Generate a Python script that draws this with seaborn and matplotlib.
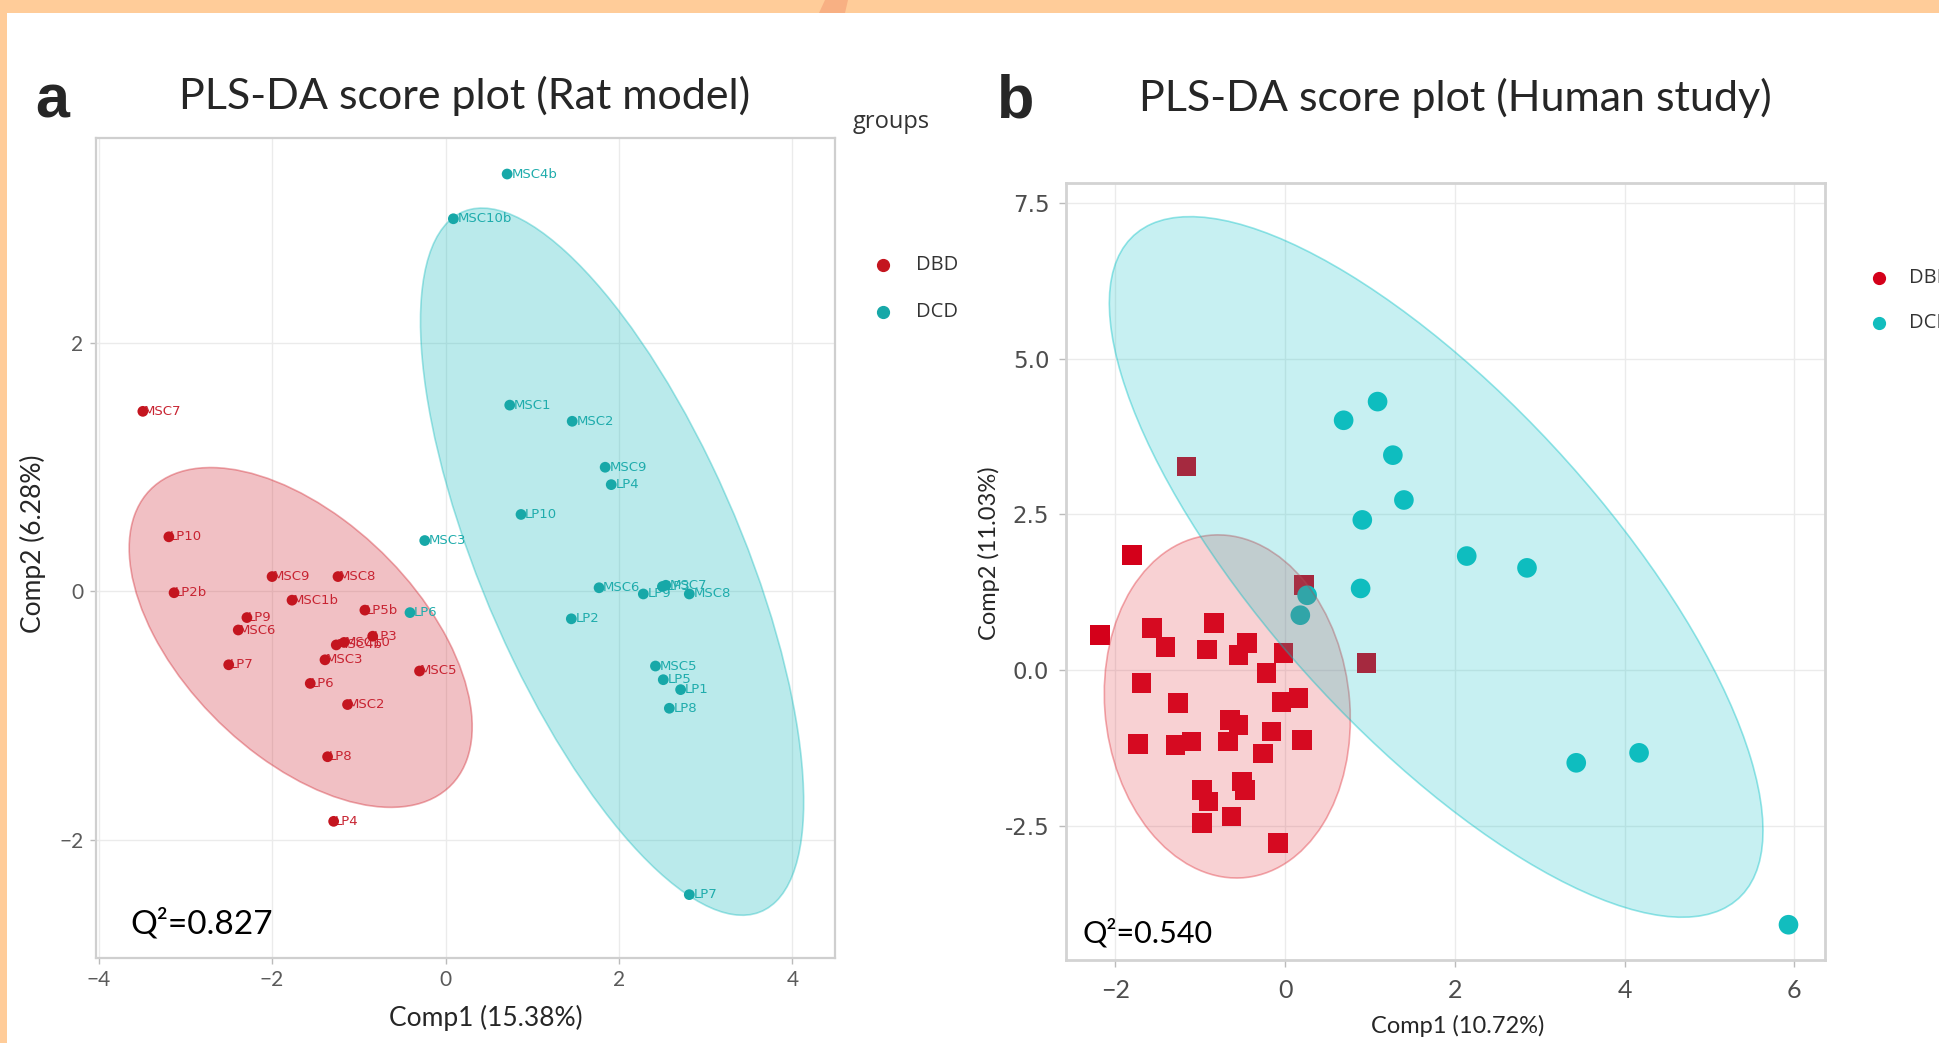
import numpy as np
import pandas as pd
import matplotlib
matplotlib.use("Agg")
import matplotlib.pyplot as plt
import seaborn as sns
from matplotlib.patches import Ellipse, Polygon, Rectangle
from matplotlib.lines import Line2D

# ---------------- data: panel a (rat model) ----------------
rat_dbd_names = ["MSC7", "LP10", "LP2b", "MSC9", "MSC8", "MSC1b", "LP9", "MSC6", "LP5b", "LP3",
                 "MSC4b", "MSC10", "MSC3", "LP7", "MSC5", "LP6", "MSC2", "LP8", "LP4"]
rat_dbd_comp1 = [-3.49, -3.19, -3.13, -2.00, -1.24, -1.77, -2.29, -2.39, -0.93, -0.84,
                 -1.26, -1.17, -1.39, -2.50, -0.30, -1.56, -1.13, -1.36, -1.29]
rat_dbd_comp2 = [1.45, 0.44, -0.01, 0.12, 0.12, -0.07, -0.21, -0.31, -0.15, -0.36,
                 -0.43, -0.41, -0.55, -0.59, -0.64, -0.74, -0.91, -1.33, -1.85]

rat_dcd_names = ["MSC4b", "MSC10b", "MSC1", "MSC2", "MSC9", "LP4", "LP10", "MSC3", "LP6", "MSC6",
                 "LP9", "LP3", "MSC7", "MSC8", "LP2", "MSC5", "LP5", "LP1", "LP8", "LP7"]
rat_dcd_comp1 = [0.71, 0.09, 0.74, 1.46, 1.84, 1.91, 0.87, -0.24, -0.41, 1.77,
                 2.28, 2.50, 2.54, 2.81, 1.45, 2.42, 2.51, 2.71, 2.58, 2.81]
rat_dcd_comp2 = [3.36, 3.00, 1.50, 1.37, 1.00, 0.86, 0.62, 0.41, -0.17, 0.03,
                 -0.02, 0.04, 0.05, -0.02, -0.22, -0.60, -0.71, -0.79, -0.94, -2.44]

# ---------------- data: panel b (human study) ----------------
human_dbd_comp1 = [-1.16, -1.80, 0.22, 0.96, -2.18, -1.57, -1.41, -0.84, -0.92, -0.45,
                   -0.55, -0.02, -0.22, -1.69, -1.26, -0.04, 0.16, -0.65, -0.55, -0.16,
                   0.20, -1.73, -1.29, -1.10, -0.67, -0.26, -0.98, -0.90, -0.51, -0.47,
                   -0.98, -0.63, -0.08]
human_dbd_comp2 = [3.27, 1.85, 1.36, 0.11, 0.56, 0.67, 0.37, 0.75, 0.33, 0.43,
                   0.24, 0.27, -0.05, -0.21, -0.53, -0.51, -0.45, -0.80, -0.88, -0.99,
                   -1.12, -1.19, -1.20, -1.15, -1.15, -1.34, -1.93, -2.11, -1.79, -1.93,
                   -2.46, -2.35, -2.78]
human_dcd_comp1 = [0.69, 1.09, 1.27, 1.40, 0.91, 2.14, 0.89, 0.26, 0.18, 2.85, 4.17, 3.43, 5.93]
human_dcd_comp2 = [4.01, 4.31, 3.45, 2.73, 2.41, 1.83, 1.31, 1.20, 0.88, 1.64, -1.33, -1.49, -4.09]

# confidence ellipses: centre and shape matrix
rat_dbd_centre = [-1.67, -0.37]
rat_dbd_shape = [[3.91, -1.42], [-1.42, 1.87]]
rat_dcd_centre = [1.92, 0.24]
rat_dcd_shape = [[4.88, -4.27], [-4.27, 8.10]]
human_dbd_centre = [-0.68, -0.585]
human_dbd_shape = [[2.10, -0.30], [-0.30, 7.59]]
human_dcd_centre = [1.78, 1.655]
human_dcd_shape = [[14.82, -16.3], [-16.3, 31.64]]

groups = ["DBD", "DCD"]

# ---------------- style ----------------
sns.set_style("white")
plt.rcParams["font.family"] = ["Lato", "DejaVu Sans"]

W, H = 1939, 1043
fig = plt.figure(figsize=(W / 100, H / 100), dpi=100)
fig.patch.set_facecolor("white")

# orange frame of the slide
fig.add_artist(Rectangle((0, 1 - 13 / H), 1, 13 / H, transform=fig.transFigure,
                         color="#FFCC99", lw=0, zorder=0))
fig.add_artist(Rectangle((0, 0), 7 / W, 1, transform=fig.transFigure,
                         color="#FFCC99", lw=0, zorder=0))
fig.add_artist(Polygon([(825 / W, 1), (848 / W, 1), (845 / W, 1 - 13 / H), (819 / W, 1 - 13 / H)],
                       closed=True, transform=fig.transFigure, color="#F8B083", lw=0, zorder=0))


def add_ellipse(ax, centre, shape, colour, alpha, edge_alpha, z):
    vals, vecs = np.linalg.eigh(np.array(shape))
    angle = np.degrees(np.arctan2(vecs[1, 1], vecs[0, 1]))
    e = Ellipse(centre, 2 * np.sqrt(vals[1]), 2 * np.sqrt(vals[0]), angle=angle,
                facecolor=matplotlib.colors.to_rgba(colour, alpha),
                edgecolor=matplotlib.colors.to_rgba(colour, edge_alpha), lw=1.2, zorder=z)
    ax.add_patch(e)


def style_axes(ax, spine_col, spine_w):
    ax.grid(True, color="#EBEBEB", lw=1.0)
    ax.set_axisbelow(True)
    for s in ax.spines.values():
        s.set_visible(True)
        s.set_color(spine_col)
        s.set_linewidth(spine_w)


# ---------------- panel a ----------------
rat_df = pd.DataFrame({
    "comp1": rat_dbd_comp1 + rat_dcd_comp1,
    "comp2": rat_dbd_comp2 + rat_dcd_comp2,
    "name": rat_dbd_names + rat_dcd_names,
    "group": ["DBD"] * len(rat_dbd_names) + ["DCD"] * len(rat_dcd_names),
})
rat_pal = {"DBD": "#C4151F", "DCD": "#17A8A8"}
rat_txt = {"DBD": "#C82432", "DCD": "#1FACAC"}

ax_a = fig.add_axes([96 / W, 1 - 958 / H, 739 / W, 820 / H])
style_axes(ax_a, "#CFCFCF", 1.6)
add_ellipse(ax_a, rat_dbd_centre, rat_dbd_shape, "#D0202B", 0.28, 0.38, 1)
add_ellipse(ax_a, rat_dcd_centre, rat_dcd_shape, "#00B5B8", 0.27, 0.35, 1)
sns.scatterplot(data=rat_df, x="comp1", y="comp2", hue="group", palette=rat_pal,
                s=60, edgecolor="none", legend=False, ax=ax_a, zorder=3)
for _, r in rat_df.iterrows():
    off = 0.5 if r["group"] == "DBD" else 3
    ax_a.annotate(r["name"], (r["comp1"], r["comp2"]), xytext=(off, 0), textcoords="offset points",
                  ha="left", va="center", fontsize=9.5, color=rat_txt[r["group"]],
                  family="DejaVu Sans", zorder=2)
ax_a.set_xlim(-4.03, 4.49)
ax_a.set_ylim(-2.95, 3.65)
ax_a.set_xticks([-4, -2, 0, 2, 4])
ax_a.set_yticks([-2, 0, 2])
ax_a.tick_params(axis="both", labelsize=15, labelcolor="#5A5A5A", color="#BBBBBB",
                 length=4, width=1, pad=5, bottom=True, left=True)
ax_a.set_xlabel("Comp1 (15.38%)", fontsize=19, va="center")
ax_a.xaxis.set_label_coords((486 - 96) / 739, -(1018 - 958) / 820)
ax_a.set_ylabel("Comp2 (6.28%)", fontsize=19, va="center")
ax_a.yaxis.set_label_coords((33 - 96) / 739, (958 - 544) / 820)
ax_a.text(0.046, 0.030, "Q\u00b2=0.827", transform=ax_a.transAxes, fontsize=24,
          va="baseline", ha="left", color="black")

# ---------------- panel b ----------------
human_df = pd.DataFrame({
    "comp1": human_dbd_comp1 + human_dcd_comp1,
    "comp2": human_dbd_comp2 + human_dcd_comp2,
    "group": ["DBD"] * len(human_dbd_comp1) + ["DCD"] * len(human_dcd_comp1),
})
human_pal = {"DBD": "#D4001A", "DCD": "#12BDBE"}

ax_b = fig.add_axes([1066 / W, 1 - 959.6 / H, 759 / W, 776.6 / H])
style_axes(ax_b, "#D3D3D3", 2)
sns.scatterplot(data=human_df, x="comp1", y="comp2", hue="group", style="group",
                markers={"DBD": "s", "DCD": "o"}, palette=human_pal, s=200,
                edgecolor="none", legend=False, ax=ax_b, zorder=2)
add_ellipse(ax_b, human_dbd_centre, human_dbd_shape, "#E0303A", 0.22, 0.40, 3)
add_ellipse(ax_b, human_dcd_centre, human_dcd_shape, "#00BFC4", 0.22, 0.40, 3)
ax_b.set_xlim(-2.58, 6.36)
ax_b.set_ylim(-4.65, 7.82)
ax_b.set_xticks([-2, 0, 2, 4, 6])
ax_b.set_yticks([-2.5, 0, 2.5, 5, 7.5])
ax_b.set_yticklabels(["-2.5", "0.0", "2.5", "5.0", "7.5"], family="DejaVu Sans")
ax_b.tick_params(axis="both", labelcolor="#4D4D4D", color="#BBBBBB",
                 length=5, width=1, pad=7, bottom=True, left=True)
ax_b.tick_params(axis="x", labelsize=18, pad=9)
ax_b.tick_params(axis="y", labelsize=16.5)
ax_b.set_xlabel("Comp1 (10.72%)", fontsize=17, va="center")
ax_b.xaxis.set_label_coords((1458 - 1066) / 759, -(1026 - 959.6) / 776.6)
ax_b.set_ylabel("Comp2 (11.03%)", fontsize=17, va="center")
ax_b.yaxis.set_label_coords((989 - 1066) / 759, (959.6 - 553) / 776.6)
ax_b.text(0.022, 0.022, "Q\u00b2=0.540", transform=ax_b.transAxes, fontsize=22,
          va="baseline", ha="left", color="black")

# ---------------- titles ----------------
fig.text(52 / W, 1 - 117 / H, "a", fontsize=44, fontweight="bold", family="Liberation Sans",
         ha="center", va="baseline")
fig.text(1016 / W, 1 - 117 / H, "b", fontsize=44, fontweight="bold", family="Liberation Sans",
         ha="center", va="baseline")
fig.text(465 / W, 1 - 109 / H, "PLS-DA score plot (Rat model)", fontsize=31,
         ha="center", va="baseline")
fig.text(1455 / W, 1 - 111 / H, "PLS-DA score plot (Human study)", fontsize=31,
         ha="center", va="baseline")

# ---------------- legends ----------------
fig.text(853 / W, 1 - 122 / H, "groups", fontsize=17, family="Open Sans",
         color="#333333", ha="left", va="center")
for g, yy in zip(groups, [265, 312]):
    fig.add_artist(Line2D([883 / W], [1 - yy / H], marker="o", ls="", ms=8.5,
                          color=rat_pal[g], transform=fig.transFigure))
    fig.text(916 / W, 1 - yy / H, g, fontsize=14.5, family="Open Sans",
             color="#333333", ha="left", va="center")
for g, yy in zip(groups, [278, 323]):
    fig.add_artist(Line2D([1879 / W], [1 - yy / H], marker="o", ls="", ms=8.5,
                          color=human_pal[g], transform=fig.transFigure))
    fig.text(1909 / W, 1 - yy / H, g, fontsize=14.5, family="Open Sans",
             color="#333333", ha="left", va="center")

fig.savefig("out.png", dpi=100, facecolor=fig.get_facecolor())
